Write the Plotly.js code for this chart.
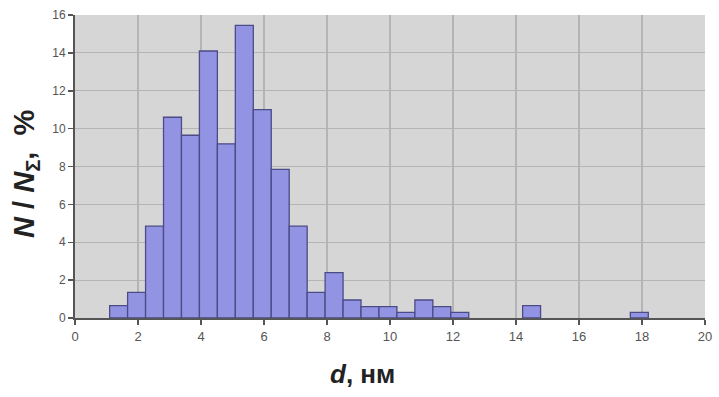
<!DOCTYPE html>
<html>
<head>
<meta charset="utf-8">
<script src="https://cdn.plot.ly/plotly-3.0.1.min.js"></script>
<style>html,body{margin:0;padding:0;background:#fff;}#chart{width:719px;height:397px;}</style>
</head>
<body>
<div id="chart"></div>
<script>
// Bin left edges (nm) and relative frequencies (%)
const binLeft = [1.1, 1.67, 2.24, 2.81, 3.38, 3.95, 4.52, 5.09, 5.66, 6.23, 6.8, 7.37, 7.94, 8.51, 9.08, 9.65, 10.22, 10.79, 11.36, 11.93, 14.21, 17.63];
const freq = [0.65, 1.35, 4.85, 10.6, 9.65, 14.1, 9.2, 15.45, 11.0, 7.85, 4.85, 1.35, 2.4, 0.95, 0.6, 0.6, 0.3, 0.95, 0.6, 0.3, 0.65, 0.3];
const binWidth = 0.57;
const xTicks = [0, 2, 4, 6, 8, 10, 12, 14, 16, 18, 20];
const yTicks = [0, 2, 4, 6, 8, 10, 12, 14, 16];
const xTitle = '<b><i>d</i>, нм</b>';
const yTitle = '<b><i>N</i>\u00a0/\u00a0<i>N</i><sub>Σ</sub>,\u00a0\u00a0%</b>';

const trace = {
  type: 'bar',
  x: binLeft,
  y: freq,
  width: binLeft.map(() => binWidth),
  offset: 0,
  marker: { color: '#9393e3', line: { color: '#4b4b86', width: 1.3 } },
  hoverinfo: 'x+y'
};

const layout = {
  width: 719, height: 397,
  margin: { l: 75, r: 14, t: 15, b: 79 },
  paper_bgcolor: '#ffffff',
  plot_bgcolor: '#d6d6d6',
  showlegend: false,
  bargap: 0,
  xaxis: {
    range: [0, 20],
    tickvals: xTicks,
    ticktext: xTicks.map(String),
    ticks: 'outside', ticklen: 5, tickcolor: '#555', tickwidth: 1.5,
    showline: true, linecolor: '#555', linewidth: 2,
    showgrid: true, gridcolor: '#b4b4b4', gridwidth: 1.2,
    zeroline: false,
    tickfont: { family: 'Liberation Sans, Arial', size: 13, color: '#555' }
  },
  yaxis: {
    range: [0, 16],
    tickvals: yTicks,
    ticktext: yTicks.map(String),
    ticks: 'outside', ticklen: 5, tickcolor: '#555', tickwidth: 1.5,
    showline: true, linecolor: '#555', linewidth: 2,
    showgrid: true, gridcolor: '#b4b4b4', gridwidth: 1.2,
    zeroline: false,
    tickfont: { family: 'Liberation Sans, Arial', size: 12, color: '#555' }
  },
  annotations: [
    { text: xTitle, xref: 'paper', yref: 'paper', x: 0.457, y: -0.185,
      xanchor: 'center', yanchor: 'middle', showarrow: false,
      font: { family: 'Liberation Sans, Arial', size: 26, color: '#222' } },
    { text: yTitle, xref: 'paper', yref: 'paper', x: -0.078, y: 0.475, textangle: -90,
      xanchor: 'center', yanchor: 'middle', showarrow: false,
      font: { family: 'Liberation Sans, Arial', size: 29, color: '#222' } }
  ]
};

Plotly.newPlot('chart', [trace], layout, { displayModeBar: false, staticPlot: true });
</script>
</body>
</html>
